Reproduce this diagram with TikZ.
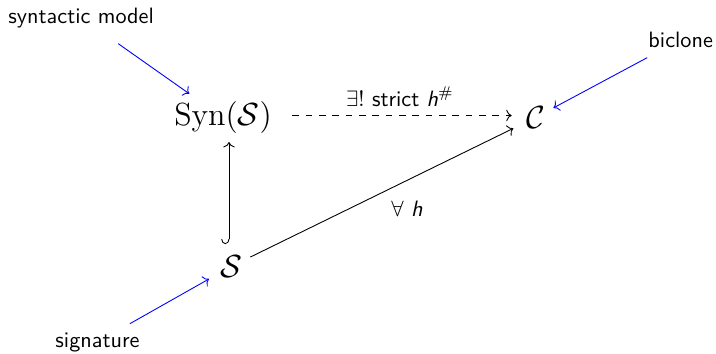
\documentclass[tikz,border=0pt]{standalone}
\usepackage{amsmath,amssymb}
\usetikzlibrary{arrows.meta}
\begin{document}
\begin{tikzpicture}[x=0.45pt,y=-0.45pt,
  obj/.style={inner sep=0pt, font=\fontsize{13.5}{16}\selectfont},
  note/.style={inner sep=0pt, font=\sffamily},
  lbl/.style={inner sep=0pt, font=\sffamily, anchor=base},
  ptr/.style={blue, -{To}},
  arr/.style={black, -{To}}]
\useasboundingbox (0,0) rectangle (716,353);
% objects
\node[obj] (syn) at (223,117.5) {$\mathrm{Syn}(\mathcal{S})$};
\node[obj] (C) at (535.5,117.5) {$\mathcal{C}$};
\node[obj] (S) at (231,266.5) {$\mathcal{S}$};
% notes
\node[note, anchor=base west] (sm) at (8,23) {syntactic model};
\node[note, anchor=base west] (bc) at (648,47.3) {biclone};
\node[note, anchor=base west] (sig) at (55,347) {signature};
% blue pointers
\draw[ptr, shorten <=12.2pt, shorten >=5.7pt] (sm) -- (syn);
\draw[ptr, shorten <=9.2pt, shorten >=4.1pt] (bc) -- (C);
\draw[ptr, shorten <=7.6pt, shorten >=5.5pt] (sig) -- (S);
% diagram arrows
\draw[black, {Hooks[right,width=7pt,length=2.2pt]}-{To}, shorten <=5pt, shorten >=3.6pt]
  ([xshift=-0.9pt]S.north) -- ([xshift=-0.9pt]S.north |- syn.south);
\draw[arr, dashed, shorten <=9pt, shorten >=6.3pt]
  ([yshift=0.9pt]syn.east) -- ([yshift=0.9pt]C.west);
\node[lbl] (ex) at (400,106) {$\exists!$ strict \textit{h}$^{\#}$};
\draw[arr, shorten <=4pt, shorten >=6.2pt] (S) -- (C);
\node[lbl] (fa) at (407,216) {$\forall$ \textit{h}};
\end{tikzpicture}
\end{document}
